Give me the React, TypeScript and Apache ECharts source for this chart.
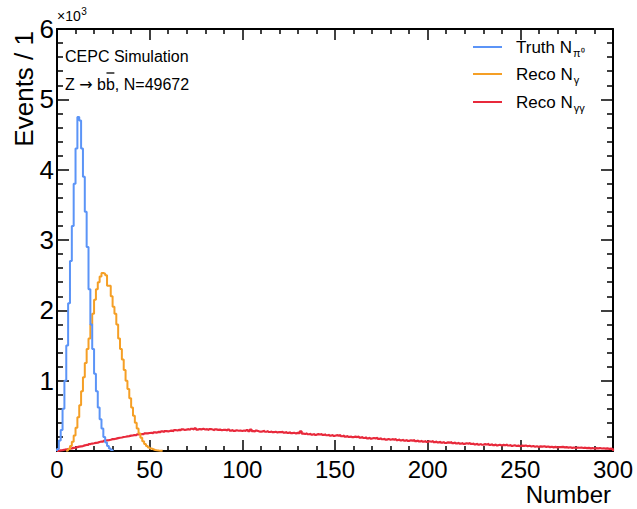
import React, { useEffect, useRef } from "react";
import * as echarts from "echarts";

// Bin contents (bin width 1, starting at the given first bin edge)
const truthStart = 0;
const truthNpi0 = [30, 150, 300, 600, 1000, 1500, 2100, 2700, 3200, 3800, 4300, 4750, 4700, 4300, 3900, 3400, 2900, 2300, 1800, 1450, 1100, 850, 620, 450, 320, 200, 120, 70, 35, 15];

const recoGStart = 5;
const recoNg = [10, 30, 70, 130, 220, 330, 480, 650, 850, 1050, 1250, 1450, 1600, 1800, 1950, 2150, 2300, 2400, 2480, 2530, 2520, 2500, 2350, 2350, 2200, 2050, 1950, 1800, 1600, 1450, 1300, 1150, 1000, 880, 750, 620, 500, 400, 320, 250, 190, 140, 100, 70, 50, 35, 25, 15, 10, 6, 4, 2];

const recoGGStart = 0;
const recoNgg = [
  3, 8, 12, 18, 22, 28, 33, 38, 45, 49,
  55, 62, 66, 70, 80, 86, 88, 99, 106, 110,
  115, 119, 128, 135, 133, 146, 152, 155, 160, 169,
  170, 176, 183, 188, 192, 199, 203, 208, 211, 218,
  222, 227, 224, 236, 238, 242, 240, 252, 250, 256,
  258, 254, 266, 262, 272, 268, 279, 272, 284, 278,
  285, 290, 283, 298, 291, 300, 296, 308, 298, 305,
  310, 302, 316, 306, 322, 304, 312, 308, 316, 306,
  310, 300, 312, 305, 296, 308, 300, 304, 294, 302,
  300, 292, 304, 290, 297, 286, 295, 288, 292, 284,
  292, 285, 298, 282, 306, 283, 278, 289, 280, 274,
  280, 285, 274, 282, 270, 278, 267, 274, 264, 270,
  268, 273, 262, 268, 257, 265, 254, 260, 250, 257,
  255, 280, 248, 242, 250, 238, 246, 234, 241, 230,
  240, 234, 242, 228, 236, 224, 232, 220, 228, 216,
  225, 218, 226, 210, 219, 204, 213, 200, 207, 196,
  205, 198, 207, 190, 199, 185, 193, 180, 188, 177,
  185, 179, 188, 172, 180, 167, 175, 162, 170, 160,
  168, 162, 170, 156, 164, 152, 159, 148, 155, 144,
  152, 147, 154, 140, 149, 136, 145, 132, 141, 130,
  138, 132, 141, 126, 135, 122, 130, 118, 127, 114,
  123, 118, 126, 112, 121, 107, 117, 104, 113, 101,
  110, 105, 113, 100, 107, 95, 104, 92, 100, 89,
  98, 93, 101, 88, 96, 84, 92, 81, 88, 78,
  87, 82, 90, 78, 85, 74, 81, 71, 77, 68,
  76, 72, 78, 68, 74, 64, 71, 61, 67, 58,
  66, 63, 68, 59, 64, 55, 61, 52, 58, 50,
  57, 54, 59, 51, 55, 48, 53, 45, 50, 43,
  48, 46, 50, 43, 47, 40, 45, 38, 42, 36,
  40, 38, 42, 36, 39, 33, 37, 31, 34, 29,
];

const seriesNames = ["Truth N", "Reco N", "Reco N"];
const seriesSubs = ["π⁰", "γ", "γγ"];
const colors = ["#5b94f7", "#f59f25", "#e8293b"];

const xMin = 0, xMax = 300, xInterval = 50;
const yMin = 0, yMax = 6000, yInterval = 1000;

const FONT = "Liberation Sans, Arial, Helvetica, sans-serif";
const ARROW_FONT = "DejaVu Sans, sans-serif";

function stepPoints(start: number, vals: number[]) {
  const pts: number[][] = [[start, 0]];
  vals.forEach((v, i) => {
    pts.push([start + i, v]);
    pts.push([start + i + 1, v]);
  });
  pts.push([start + vals.length, 0]);
  return pts;
}

function measure(text: string, size: number, font = FONT) {
  const c = document.createElement("canvas").getContext("2d");
  if (!c) return text.length * size * 0.55;
  c.font = `${size}px ${font}`;
  return c.measureText(text).width;
}

export default function App() {
  const ref = useRef<HTMLDivElement>(null);
  useEffect(() => {
    if (!ref.current) return;
    const chart = echarts.init(ref.current, null, { renderer: "svg" });
    const axisCommon = {
      type: "value" as const,
      axisLine: { show: true, onZero: false, lineStyle: { color: "#000", width: 2 } },
      splitLine: { show: false },
    };
    const xTicks = {
      axisTick: { show: true, inside: true, length: 11, lineStyle: { color: "#000", width: 1.5 } },
      minorTick: { show: true, splitNumber: 5, length: 5, lineStyle: { color: "#000", width: 1.5 } },
    };
    const yTicks = {
      axisTick: { show: true, inside: true, length: 12, lineStyle: { color: "#000", width: 1.5 } },
      minorTick: { show: true, splitNumber: 5, length: 6, lineStyle: { color: "#000", width: 1.5 } },
    };
    const data = [
      stepPoints(truthStart, truthNpi0),
      stepPoints(recoGStart, recoNg),
      stepPoints(recoGGStart, recoNgg),
    ];
    const legendY = [47, 74, 102];
    const legendGraphics: any[] = [];
    seriesNames.forEach((n, i) => {
      legendGraphics.push({
        type: "line",
        shape: { x1: 473, y1: legendY[i], x2: 502, y2: legendY[i] },
        style: { stroke: colors[i], lineWidth: 2 },
      });
      const w = measure(n, 17);
      legendGraphics.push({
        type: "text",
        x: 516, y: legendY[i],
        style: { text: n, font: `17px ${FONT}`, fill: "#000", verticalAlign: "middle" },
      });
      legendGraphics.push({
        type: "text",
        x: 516 + w + 1, y: legendY[i] + 6,
        style: { text: seriesSubs[i], font: `11px ${FONT}`, fill: "#000", verticalAlign: "middle" },
      });
    });

    // "Z → bb̄, N=49672" laid out piece by piece
    const pieces: { t: string; f: string; over?: boolean }[] = [
      { t: "Z ", f: FONT },
      { t: "→", f: ARROW_FONT },
      { t: " b", f: FONT },
      { t: "b", f: FONT, over: true },
      { t: ", N=49672", f: FONT },
    ];
    const zGraphics: any[] = [];
    let cx = 65;
    pieces.forEach((p) => {
      const w = measure(p.t, 16, p.f);
      zGraphics.push({
        type: "text", x: cx, y: 84,
        style: { text: p.t, font: `16px ${p.f}`, fill: "#000", verticalAlign: "middle" },
      });
      if (p.over) {
        zGraphics.push({
          type: "line",
          shape: { x1: cx + 0.5, y1: 73, x2: cx + w - 0.5, y2: 73 },
          style: { stroke: "#000", lineWidth: 1.3 },
        });
      }
      cx += w;
    });

    chart.setOption({
      animation: false,
      grid: { left: 57, right: 24, top: 29, bottom: 58, containLabel: false },
      xAxis: [
        {
          ...axisCommon, ...xTicks, position: "bottom",
          min: xMin, max: xMax, interval: xInterval,
          axisLabel: { color: "#000", fontSize: 24, fontFamily: FONT, margin: 6, showMaxLabel: true, showMinLabel: true },
        },
        {
          ...axisCommon, ...xTicks, position: "top",
          min: xMin, max: xMax, interval: xInterval,
          axisLabel: { show: false },
        },
      ],
      yAxis: [
        {
          ...axisCommon, ...yTicks, position: "left",
          min: yMin, max: yMax, interval: yInterval,
          axisLabel: {
            color: "#000", fontSize: 26, fontFamily: FONT, margin: 3,
            formatter: (v: number) => (v === 0 ? "" : String(v / 1000)),
          },
        },
        {
          ...axisCommon, ...yTicks, position: "right",
          min: yMin, max: yMax, interval: yInterval,
          axisLabel: { show: false },
        },
      ],
      series: data.map((d, i) => ({
        type: "line",
        name: seriesNames[i] + seriesSubs[i],
        data: d,
        showSymbol: false,
        symbol: "none",
        xAxisIndex: 0,
        yAxisIndex: 0,
        lineStyle: { color: colors[i], width: i === 2 ? 2.2 : 2 },
        clip: true,
        z: 5 - i,
      })),
      graphic: [
        {
          type: "text", x: 24, y: 31, rotation: Math.PI / 2,
          style: { text: "Events / 1", font: `26px ${FONT}`, fill: "#000", align: "right", verticalAlign: "middle" },
        },
        {
          type: "text", x: 611, y: 494,
          style: { text: "Number", font: `24px ${FONT}`, fill: "#000", align: "right", verticalAlign: "middle" },
        },
        {
          type: "text", x: 57, y: 16,
          style: { text: "×10", font: `14px ${FONT}`, fill: "#000", verticalAlign: "middle" },
        },
        {
          type: "text", x: 57 + measure("×10", 14) + 0.5, y: 11,
          style: { text: "3", font: `10px ${FONT}`, fill: "#000", verticalAlign: "middle" },
        },
        {
          type: "text", x: 65, y: 56,
          style: { text: "CEPC Simulation", font: `16px ${FONT}`, fill: "#000", verticalAlign: "middle" },
        },
        ...zGraphics,
        ...legendGraphics,
      ],
    });
    return () => chart.dispose();
  }, []);
  return <div ref={ref} style={{ width: 637, height: 509, position: "absolute", left: 0, top: 0, background: "#fff" }} />;
}
